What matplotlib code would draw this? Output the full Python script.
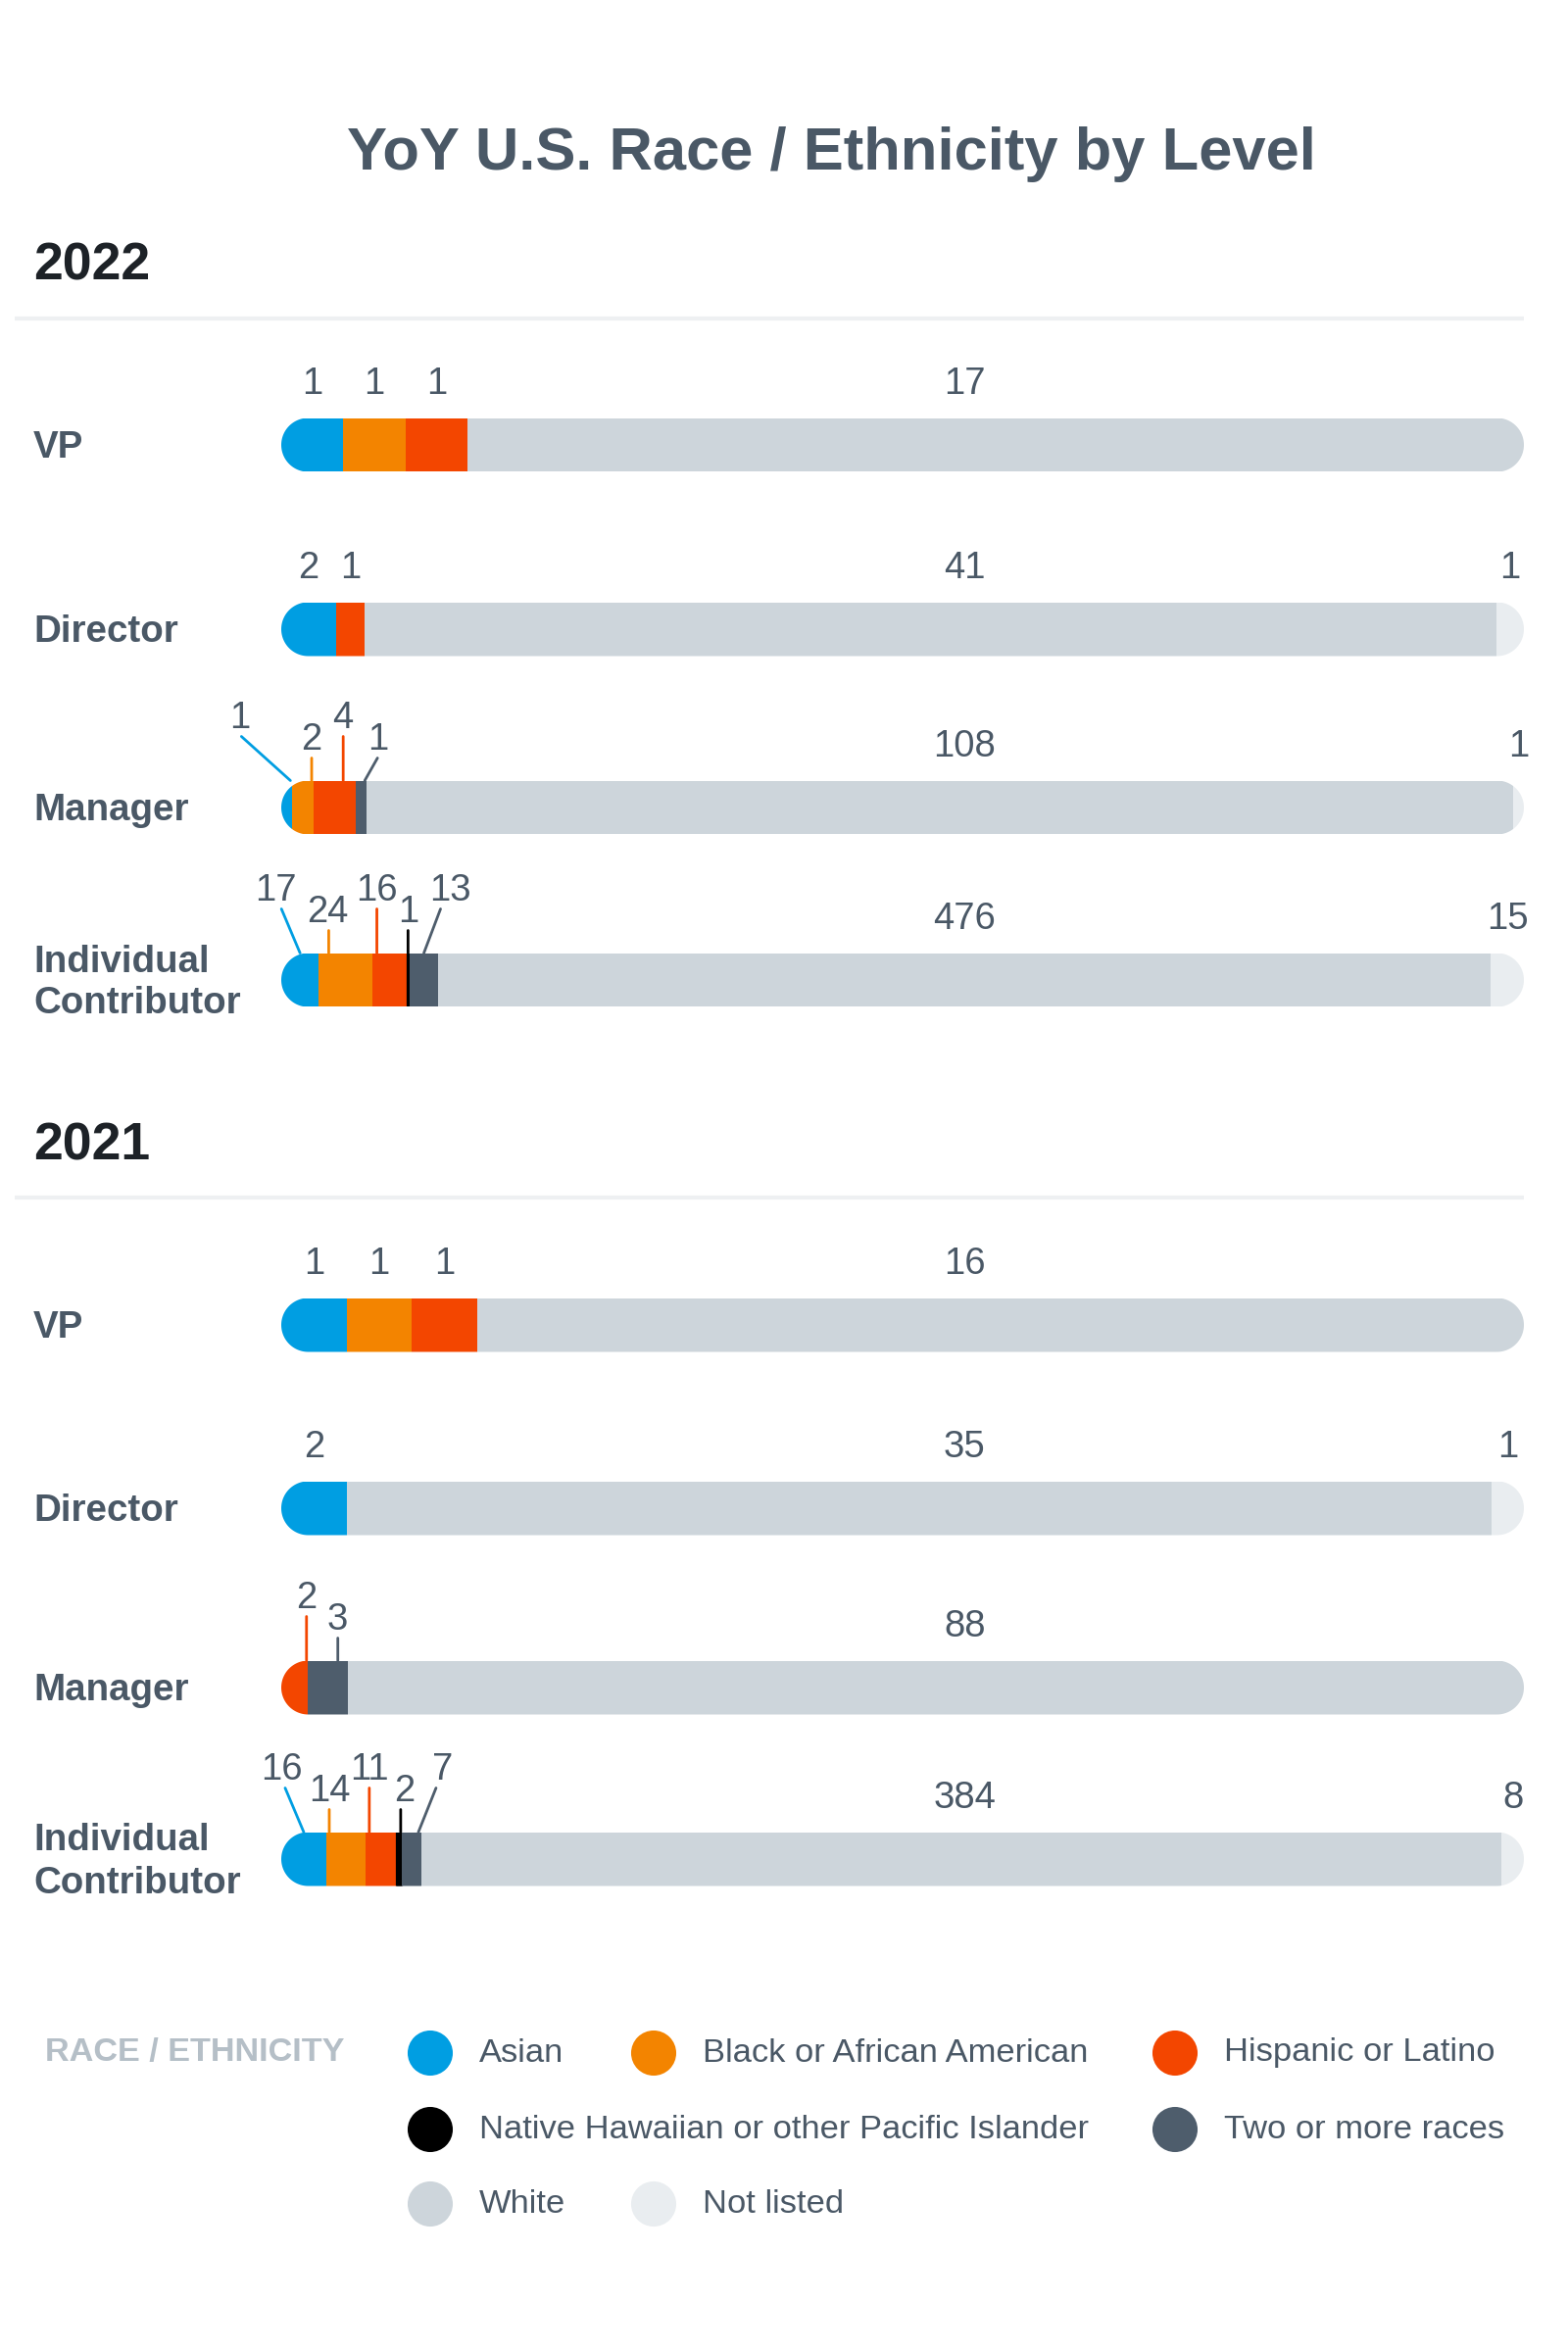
import numpy as np
import matplotlib.pyplot as plt
from matplotlib.path import Path
from matplotlib.patches import PathPatch
from matplotlib.transforms import Affine2D

plt.rcParams['font.family'] = ['Liberation Sans', 'DejaVu Sans']

# ---- data ----
categories = ["Asian", "Black or African American", "Hispanic or Latino",
              "Native Hawaiian or other Pacific Islander", "Two or more races",
              "White", "Not listed"]
colors = ["#009ee2", "#f38400", "#f34600", "#000000", "#4e5d6c", "#cdd5db", "#e9edf0"]
levels = ["VP", "Director", "Manager", "Individual Contributor"]
level_labels = ["VP", "Director", "Manager", "Individual\nContributor"]
years = ["2022", "2021"]

# counts per level, same order as categories
counts_2022 = {
    "VP": [1, 1, 1, 0, 0, 17, 0],
    "Director": [2, 0, 1, 0, 0, 41, 1],
    "Manager": [1, 2, 4, 0, 1, 108, 1],
    "Individual Contributor": [17, 24, 16, 1, 13, 476, 15],
}
counts_2021 = {
    "VP": [1, 1, 1, 0, 0, 16, 0],
    "Director": [2, 0, 0, 0, 0, 35, 1],
    "Manager": [0, 0, 2, 0, 3, 88, 0],
    "Individual Contributor": [16, 14, 11, 2, 7, 384, 8],
}
counts = {"2022": counts_2022, "2021": counts_2021}

# ---- layout (pixels) ----
W, H = 1600, 2398
BAR_X0, BAR_X1 = 287, 1555
BAR_H = 55
year_y = {"2022": 271, "2021": 1169}
rule_y = {"2022": 325, "2021": 1222}
bar_y = {"2022": [454, 642, 824, 1000], "2021": [1352, 1539, 1722, 1897]}
callout_rows = ["Manager", "Individual Contributor"]
# callout tweaks: category index -> (anchor shift, line dx, label dx)
callout_adj = {
    ("2022", "Manager"): {0: (0, -50, -52), 2: (9, 0, 0), 4: (0, 13, 14)},
    ("2022", "Individual Contributor"): {0: (0, -19, -25), 1: (-17, 0, -1),
                                         2: (-13, 0, 0), 4: (0, 17, 27)},
    ("2021", "Manager"): {4: (10, 0, 0)},
    ("2021", "Individual Contributor"): {0: (0, -19, -23), 1: (-17, 0, 0),
                                         2: (-12, 0, 0), 3: (0, 0, 4),
                                         4: (-2, 18, 25)},
}
TEXT = "#4a5866"
NUM_FS = 27.5
CAP = 0.716 * NUM_FS * 100 / 72  # digit height in px

fig = plt.figure(figsize=(W / 100, H / 100), dpi=100)
bg = fig.add_axes([0, 0, 1, 1])
bg.set_xlim(0, W)
bg.set_ylim(H, 0)
bg.axis('off')

bg.text(848, 157, "YoY U.S. Race / Ethnicity by Level", ha='center', va='center',
        fontsize=44.3, fontweight='bold', color=TEXT)


def put_num(ax, x, dy, s, xcoord='data', dx=0):
    ax.annotate(s, xy=(x, 1), xycoords=(xcoord, 'axes fraction'),
                xytext=(dx, dy - CAP / 2), textcoords='offset pixels',
                ha='center', va='baseline', fontsize=NUM_FS, color=TEXT,
                annotation_clip=False)


def draw_bar(year, level, yc):
    vals = np.array(counts[year][level], dtype=float)
    total = vals.sum()
    wpx = BAR_X1 - BAR_X0
    ax = fig.add_axes([BAR_X0 / W, 1 - (yc + BAR_H / 2) / H, wpx / W, BAR_H / H])
    ax.set_xlim(0, total)
    ax.set_ylim(-0.5, 0.5)
    ax.axis('off')
    lefts = np.concatenate([[0], np.cumsum(vals)[:-1]])
    bars = ax.barh(0, vals, left=lefts, height=1, color=colors, linewidth=0)
    # the thin black segment reads a little wider in the original
    bars[3].set_edgecolor("#000000")
    bars[3].set_linewidth(1.6 if vals[3] > 0 else 0)

    # pill shaped clip
    r = BAR_H / 2
    t = np.linspace(-np.pi / 2, np.pi / 2, 80)
    right = np.column_stack([wpx - r + r * np.cos(t), r + r * np.sin(t)])
    left = np.column_stack([r - r * np.cos(t), r - r * np.sin(t)])
    verts = np.vstack([right, left, right[:1]])
    clip = PathPatch(Path(verts, closed=True), facecolor='none', edgecolor='none',
                     transform=Affine2D().scale(1 / wpx, 1 / BAR_H) + ax.transAxes)
    ax.add_patch(clip)
    for b in bars:
        b.set_clip_path(clip)

    callout = level in callout_rows
    adj = callout_adj.get((year, level), {})
    px = total / wpx  # data units per pixel
    tier = 0
    for i, v in enumerate(vals):
        if v == 0:
            continue
        s = str(int(v))
        if categories[i] == "White":
            put_num(ax, 0.55, 38, s, xcoord='axes fraction')
            continue
        center = lefts[i] + v / 2
        if not callout or i > 4:
            put_num(ax, center, 38, s)
            continue
        anchor = center
        if v / px < r:
            anchor = lefts[i] + v - 1.5 * px
        shift, ldx, dx = adj.get(i, (0, 0, 0))
        anchor += shift * px
        high = tier % 2 == 0
        tier += 1
        lab_h, line_h = (67, 45) if high else (45, 23)
        ax.annotate('', xy=(anchor, 1), xycoords=('data', 'axes fraction'),
                    xytext=(ldx, line_h), textcoords='offset pixels',
                    arrowprops=dict(arrowstyle='-', color=colors[i], lw=2,
                                    shrinkA=0, shrinkB=0),
                    annotation_clip=False)
        put_num(ax, anchor, lab_h, s, dx=dx)


for year in years:
    bg.text(34, year_y[year], year, ha='left', va='center', fontsize=38.5,
            fontweight='bold', color="#1d2227")
    bg.plot([15, 1555], [rule_y[year]] * 2, color="#eef0f2", lw=3,
            solid_capstyle='butt')
    for level, lab, yc in zip(levels, level_labels, bar_y[year]):
        bg.text(34, yc + 3, lab, ha='left', va='center', fontsize=27.7,
                fontweight='bold', color=TEXT, linespacing=1.25)
        draw_bar(year, level, yc)

# ---- legend ----
legend_slots = [(0, 0), (1, 0), (2, 0), (0, 1), (2, 1), (0, 2), (1, 2)]
col_x = [439, 667, 1199]
row_y = [2095, 2173, 2249]
bg.text(46, row_y[0], "RACE / ETHNICITY", ha='left', va='center', fontsize=24.7,
        fontweight='bold', color="#b5bfc7")
for cat, col, (c, rr) in zip(categories, colors, legend_slots):
    bg.scatter([col_x[c]], [row_y[rr]], s=1100, color=col, edgecolors='none')
    bg.text(col_x[c] + 50, row_y[rr], cat, ha='left', va='center',
            fontsize=24.8, color=TEXT)

fig.savefig("out.png", dpi=100, facecolor='white')
